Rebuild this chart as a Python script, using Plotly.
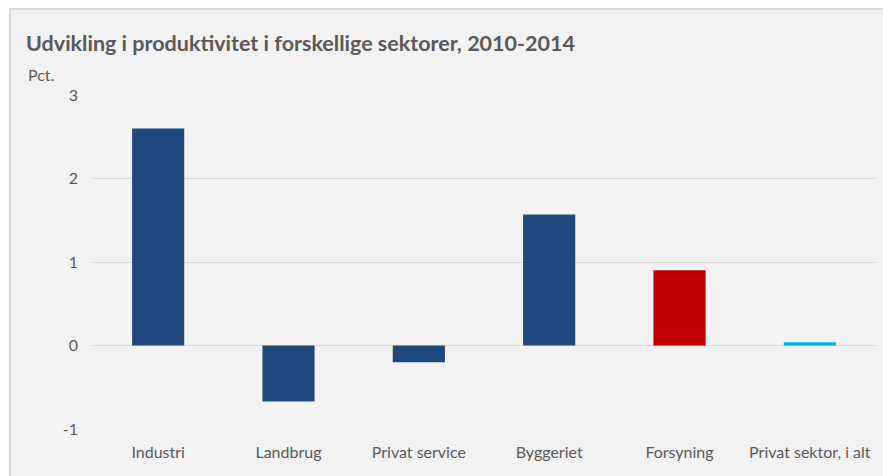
import plotly.graph_objects as go

categories = ["Industri", "Landbrug", "Privat service", "Byggeriet", "Forsyning", "Privat sektor, i alt"]
values = [2.6, -0.67, -0.2, 1.57, 0.9, 0.04]
colors = ["#1f497d", "#1f497d", "#1f497d", "#1f497d", "#c00000", "#00b0f0"]
y_ticks = [-1, 0, 1, 2, 3]
y_tick_text = ["-1", "0", "1", "2", "3"]

W, H = 883, 476
L, R, T, B = 93, 8, 95, 47
pw, ph = W - L - R, H - T - B

fig = go.Figure(go.Bar(x=categories, y=values, marker=dict(color=colors, line=dict(width=0)), width=0.4))

font = "Lato, 'Open Sans', sans-serif"
fig.update_layout(
    width=W, height=H,
    margin=dict(l=L, r=R, t=T, b=B),
    paper_bgcolor="white", plot_bgcolor="rgba(0,0,0,0)",
    showlegend=False,
    font=dict(family=font, size=16, color="#595959"),
    title=dict(text="<b>Udvikling i produktivitet i forskellige sektorer, 2010-2014</b>",
               xref="container", yref="container", x=26 / W, xanchor="left",
               y=1 - 43 / H, yanchor="middle",
               font=dict(family=font, size=21.5, color="#595959")),
    xaxis=dict(showgrid=False, showline=False, zeroline=False, ticks="",
               ticklabelstandoff=12, tickfont=dict(size=16, color="#595959")),
    yaxis=dict(range=[-1, 3], tickvals=y_ticks, ticktext=y_tick_text, showgrid=True,
               gridcolor="#d9d9d9", gridwidth=1.3, zeroline=False, showline=False, ticks="",
               ticklabelstandoff=14, tickfont=dict(size=16, color="#595959")),
    shapes=[dict(type="rect", xref="paper", yref="paper", layer="below",
                 x0=(10 - L) / pw, x1=(W + 20 - L) / pw,
                 y0=-(B + 20) / ph, y1=1 + (T - 9) / ph,
                 fillcolor="#f2f2f2", line=dict(color="#d9d9d9", width=2))],
    annotations=[dict(text="Pct.", xref="paper", yref="paper",
                      x=(26 - L) / pw, y=1 + (T - 75) / ph, xanchor="left", yanchor="middle",
                      showarrow=False, font=dict(size=16, color="#595959"))],
)

fig.write_html("out.html", config={"displayModeBar": False},
               post_script="document.body.style.margin='0px';")
